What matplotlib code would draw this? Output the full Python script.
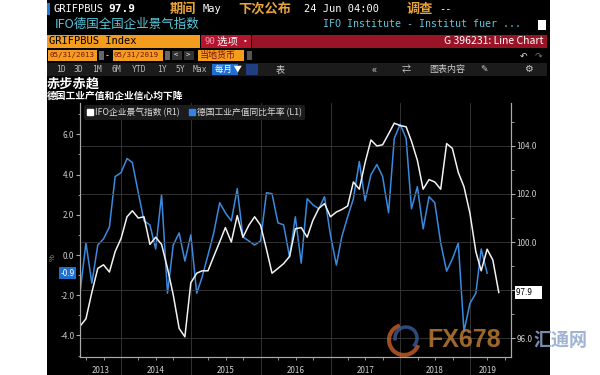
import numpy as np
import pandas as pd
import matplotlib
matplotlib.use('Agg')
import matplotlib.pyplot as plt
import matplotlib.dates as mdates
import matplotlib.transforms as mtrans
from matplotlib.patches import Rectangle, Arc
from matplotlib.lines import Line2D

plt.rcParams['font.family'] = ['Noto Sans CJK SC', 'DejaVu Sans']

# monthly points, end of month, May 2013 - May 2019
months = pd.date_range('2013-05-31', '2019-05-31', freq='ME')

# IFO business climate (right axis, R1)
ifo = [96.5, 96.8, 97.9, 98.9, 99.05, 98.75, 99.6, 100.15, 101.05, 101.3, 101.0, 101.05, 99.9,
       100.2, 99.9, 98.9, 97.8, 96.4, 96.05, 98.3, 98.7, 98.8, 98.8, 99.4, 100.0,
       100.6, 100.0, 101.1, 100.2, 100.7, 101.05, 100.7, 99.7, 98.7, 98.9, 99.1, 99.4,
       100.55, 100.6, 100.2, 100.9, 101.4, 101.6, 101.05, 101.25, 101.35, 101.5, 102.5, 102.2,
       103.3, 104.25, 104.0, 104.05, 104.5, 104.95, 104.85, 104.8, 104.2, 103.4, 102.2, 102.6,
       102.5, 102.2, 104.1, 103.9, 102.9, 102.3, 101.2, 99.6, 98.8, 99.7, 99.25, 97.9]

# German industrial production YoY % (left axis, L1), ends Mar 2019
ip = [-1.8, 0.6, -1.4, 0.5, 0.8, 1.4, 3.9, 4.1, 4.8, 4.6, 3.1, 1.7, 1.5,
      0.3, 3.0, -1.9, 0.5, 1.1, -0.3, 1.0, -1.9, -1.1, 0.0, 1.1, 2.6,
      2.1, 1.7, 3.3, 0.9, 0.7, 0.5, 0.7, 3.1, 3.05, 1.6, 1.5, -0.1,
      1.9, -0.4, 2.8, 2.5, 2.3, 2.9, 1.0, -0.5, 0.9, 1.9, 2.8, 4.65,
      2.7, 4.0, 4.5, 3.9, 2.1, 5.8, 6.5, 5.8, 2.3, 3.4, 1.3, 2.9,
      2.6, 0.6, -0.8, -0.2, 0.6, -3.8, -2.4, -1.9, 0.3, -0.9]

years = ['2013', '2014', '2015', '2016', '2017', '2018', '2019']
year_pos = ['2013-09-14', '2014-07-02', '2015-07-02', '2016-07-02', '2017-07-02', '2018-07-02', '2019-04-05']

W, H = 600, 375
fig = plt.figure(figsize=(6, 3.75), dpi=100, facecolor='white')


def px(x, y):
    return x / W, 1 - y / H


def box(x0, y0, x1, y1, color, z=1):
    fig.add_artist(Rectangle((x0 / W, 1 - y1 / H), (x1 - x0) / W, (y1 - y0) / H,
                             transform=fig.transFigure, facecolor=color, edgecolor='none', zorder=z))


def txt(x, y, s, color='white', size=7, ha='left', weight='normal', family=None, z=3, alpha=1):
    fig.text(*px(x, y), s, color=color, fontsize=size, ha=ha, va='center', weight=weight,
             family=family, zorder=z, alpha=alpha)


mono = ['DejaVu Sans Mono', 'Noto Sans CJK SC']
orange = '#f39c1e'

# terminal background
box(47, 0, 550, 375, 'black', z=0)

# header row 1
box(47, 3, 50, 15, '#1f7bd6')
txt(54, 9, 'GRIFPBUS', size=7.5, family=mono)
txt(108, 9, '97.9', size=8, weight='bold', family=mono)
txt(170, 9, '期间', color='#e8a33a', size=9.5, weight='bold')
txt(203, 9, 'May', size=7.5, family=mono)
txt(238, 9, '下次公布', color='#e8a33a', size=9.5, weight='bold')
txt(304, 9, '24 Jun 04:00', size=7.5, family=mono)
txt(407, 9, '调查', color='#e8a33a', size=9.5, weight='bold')
txt(439, 9, '--', size=7.5, family=mono)

# header row 2
txt(55, 24, 'IFO德国全国企业景气指数', color='#5cc8dc', size=9)
txt(323, 24, 'IFO Institute - Institut fuer ...', color='#5cc8dc', size=7.2, family=mono)
box(538, 20, 546, 30, 'white')

# header row 3
box(47, 35, 200, 48, orange)
txt(49, 41.5, 'GRIFPBUS Index', color='black', size=7.5, family=mono)
box(201, 35, 251, 48, '#b3152f')
txt(204, 41.5, '90', color='#f2a0b0', size=6.5, family=mono)
txt(217, 41.5, '选项 ·', size=7.5)
box(252, 35, 547, 48, '#9a1428')
txt(543, 41.5, 'G 396231: Line Chart', size=7.5, ha='right')
txt(520, 56, '↶', color='#dddddd', size=6.5)
txt(535, 56, '↷', color='#777777', size=6.5)

# header row 4
box(48, 50, 97, 61, orange)
txt(49, 55.5, '05/31/2013', color='#7a1010', size=5.4, family=mono)
box(99, 51, 104, 60, '#666666')
txt(106, 55.5, '-', size=6)
box(113, 50, 163, 61, orange)
txt(114, 55.5, '05/31/2019', color='#7a1010', size=5.4, family=mono)
box(165, 51, 170, 60, '#666666')
box(172, 51, 182, 60, '#333333')
txt(174, 55.5, '<', size=5.5)
box(184, 51, 194, 60, '#333333')
txt(186, 55.5, '>', size=5.5)
box(198, 50, 244, 61, orange)
txt(200, 55.5, '当地货币', color='#7a1010', size=6.5)
box(247, 51, 252, 60, '#555555')

# toolbar row
box(47, 63, 547, 76, '#1b1b1b')
for lab, xx in zip(['1D', '3D', '1M', '6M', 'YTD', '1Y', '5Y', 'Max'],
                   [56, 74, 92, 112, 132, 157, 175, 193]):
    txt(xx, 69.5, lab, color='#bbbbbb', size=5.8, family=mono)
box(212, 64, 238, 75, '#1f6fd0')
txt(215, 69.5, '每月 ▼', size=6)
box(246, 64, 258, 75, '#1f3f80')
txt(276, 69.5, '表', color='#cccccc', size=6.5)
txt(371, 69.5, '«', color='#cccccc', size=8)
txt(402, 69.5, '⇄', color='#cccccc', size=6.5)
txt(429, 69.5, '图表内容', color='#cccccc', size=6.5)
txt(480, 69.5, '✎', color='#cccccc', size=6.5, family=['DejaVu Sans'])
txt(524, 69.5, '⚙', color='#cccccc', size=7, family=['DejaVu Sans'])

# chart title
txt(47, 84, '赤步赤趋', size=9.5, weight='bold')
txt(47, 96, '德国工业产值和企业信心均下降', size=7, weight='bold')

# ---- chart ----
ax = fig.add_axes([80 / W, 1 - 357 / H, (511 - 80) / W, (357 - 103) / H])
ax.set_facecolor('black')
ax2 = ax.twinx()

ax.plot(months[:len(ip)], ip, color='#3a8ae0', lw=1.1)
ax2.plot(months, ifo, color='#f2f2f2', lw=1.1)

ax.set_xlim(pd.Timestamp('2013-05-30'), pd.Timestamp('2019-08-03'))
ax.set_ylim(-5.07, 7.56)
ax2.set_ylim(95.21, 105.79)

grid_c = '#3a3a3a'
spine_c = '#aaaaaa'
lab_c = '#cfcfcf'

ax.set_yticks([-4, -2, 0, 2, 4, 6])
ax.set_yticklabels(['%.1f' % v for v in [-4, -2, 0, 2, 4, 6]])
ax.set_yticks([-5, -3, -1, 1, 3, 5, 7], minor=True)
ax2.set_yticks([96, 98, 100, 102, 104])
ax2.set_yticklabels(['96.0', '', '100.0', '102.0', '104.0'])
ax2.set_yticks([97, 99, 101, 103, 105], minor=True)

ax.xaxis.set_major_locator(mdates.YearLocator())
ax.xaxis.set_minor_locator(mdates.MonthLocator(bymonth=[4, 7, 10]))
ax.xaxis.set_major_formatter(plt.NullFormatter())
ax.tick_params(axis='x', which='major', length=14, width=0.6, color=grid_c)
ax.tick_params(axis='x', which='minor', length=2, width=0.6, color=spine_c)
ax.tick_params(axis='y', which='major', length=3, width=0.8, color=spine_c, labelsize=5.8,
               labelcolor=lab_c, pad=1)
ax.tick_params(axis='y', which='minor', length=1.8, width=0.6, color=spine_c)
ax2.tick_params(axis='y', which='major', length=3, width=0.8, color=spine_c, labelsize=5.8,
                labelcolor=lab_c, pad=1)
ax2.tick_params(axis='y', which='minor', length=1.8, width=0.6, color=spine_c)

ax.grid(axis='x', which='major', color=grid_c, lw=0.6)
ax2.grid(axis='y', which='major', color=grid_c, lw=0.6)
ax.set_axisbelow(True)
ax2.set_axisbelow(True)

for a in (ax, ax2):
    a.spines['top'].set_visible(False)
    for s in ('left', 'right', 'bottom'):
        a.spines[s].set_color(spine_c)
        a.spines[s].set_linewidth(0.8)

tr = mtrans.blended_transform_factory(ax.transData, ax.transAxes)
for y, p in zip(years, year_pos):
    ax.text(pd.Timestamp(p), -0.052, y, transform=tr, ha='center', va='center',
            color=lab_c, fontsize=5.8)

# axis unit label
fig.text(*px(53, 258), '%', color='#aaaaaa', fontsize=5.5, rotation=90, ha='center', va='center')

# last value tags
trl = mtrans.blended_transform_factory(ax.transAxes, ax.transData)
ax.text(-0.012, ip[-1], '-0.9', transform=trl, ha='right', va='center', color='white',
        fontsize=5.8, bbox=dict(boxstyle='square,pad=0.2', fc='#1f6fd0', ec='none'), clip_on=False)
trr = mtrans.blended_transform_factory(ax2.transAxes, ax2.transData)
ax2.text(1.012, ifo[-1], '97.9     ', transform=trr, ha='left', va='center', color='black',
         fontsize=5.8, bbox=dict(boxstyle='square,pad=0.2', fc='white', ec='none'), clip_on=False)

# legend
handles = [Line2D([], [], marker='s', color='white', ls='None', markersize=5),
           Line2D([], [], marker='s', color='#2f86e6', ls='None', markersize=5)]
leg = ax2.legend(handles, ['IFO企业景气指数 (R1)', '德国工业产值同比年率 (L1)'], loc='upper left',
                 bbox_to_anchor=(0.005, 1.0), ncol=2, fontsize=6.3, labelcolor='#dddddd',
                 facecolor='#1c1c1c', edgecolor='none', framealpha=1, handletextpad=0.2,
                 columnspacing=1.0, borderpad=0.3, borderaxespad=0.2, handlelength=0.8)

# watermark
fig.add_artist(Arc(px(404, 340), 30 / W, 30 / H, theta1=100, theta2=330,
                   transform=fig.transFigure, color='#c8602a', lw=3, alpha=0.8, zorder=5))
fig.add_artist(Arc(px(406, 338), 22 / W, 22 / H, theta1=-60, theta2=200,
                   transform=fig.transFigure, color='#3a5d9c', lw=2.5, alpha=0.8, zorder=5))
fig.text(*px(427, 340), 'FX678', color='#b87a30', fontsize=18, weight='bold',
         family=['Liberation Sans', 'DejaVu Sans'], va='center', alpha=0.85, zorder=5)
fig.text(*px(534, 340), '汇通网', color='#8ea6cc', fontsize=13, weight='bold', va='center',
         alpha=0.85, zorder=5)

fig.savefig('out.png', dpi=100, facecolor='white')
